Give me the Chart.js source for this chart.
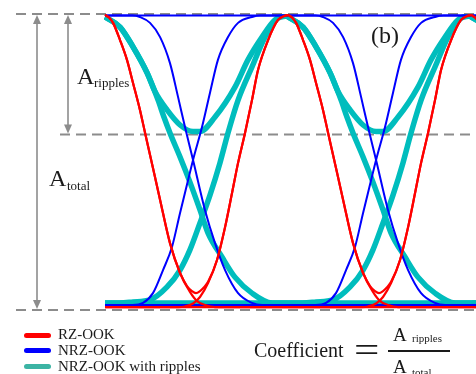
<!DOCTYPE html>
<html>
<head>
<meta charset="utf-8">
<script src="https://cdn.jsdelivr.net/npm/chart.js@4.4.1/dist/chart.umd.min.js"></script>
<style>
  html, body { margin: 0; padding: 0; background: #fff; }
  #wrap { position: relative; width: 476px; height: 374px; overflow: hidden; font-family: "Liberation Serif", "DejaVu Serif", serif; color: #1a1a1a; }
  #eye { position: absolute; left: 0; top: 0; }
  .t { position: absolute; line-height: 1; white-space: nowrap; }
  .swatch { position: absolute; left: 24px; width: 27px; height: 5px; border-radius: 2.5px; }
  .bar { position: absolute; background: #1a1a1a; }
</style>
</head>
<body>
<div id="wrap">
  <canvas id="eye" width="476" height="374"></canvas>

  <span class="t" style="left:77px;top:64px;font-size:24px">A</span>
  <span class="t" style="left:94px;top:76px;font-size:13px">ripples</span>
  <span class="t" style="left:49px;top:166px;font-size:24px">A</span>
  <span class="t" style="left:67px;top:179px;font-size:13px">total</span>
  <span class="t" style="left:371px;top:23px;font-size:24px">(b)</span>

  <div class="swatch" style="top:333px;background:#ff0000"></div>
  <div class="swatch" style="top:348px;background:#0000ff"></div>
  <div class="swatch" style="top:364px;background:#3cb4a4"></div>
  <span class="t" style="left:58px;top:327px;font-size:15px">RZ-OOK</span>
  <span class="t" style="left:58px;top:343px;font-size:15px">NRZ-OOK</span>
  <span class="t" style="left:58px;top:359px;font-size:15px">NRZ-OOK with ripples</span>

  <span class="t" style="left:254px;top:340px;font-size:20px">Coefficient</span>
  <span class="t" style="left:354px;top:332px;font-size:36px;transform:scaleX(1.25);transform-origin:left">=</span>
  <div class="bar" style="left:388px;top:350px;width:62px;height:1.5px"></div>
  <span class="t" style="left:393px;top:325px;font-size:19px">A</span>
  <span class="t" style="left:412px;top:333px;font-size:11px">ripples</span>
  <span class="t" style="left:393px;top:357px;font-size:19px">A</span>
  <span class="t" style="left:412px;top:367px;font-size:11px">total</span>
</div>

<script>
// One bit period of each trace, as [time in bit periods, normalised amplitude].
// Eye traces are folded, so the same period is laid down at every eye offset.
const eyeOffsets = [0, 1, 2];
const rippleLevel = 0.593;

// RZ-OOK
const rzFall = [[0, 0.997], [0.022, 0.988], [0.044, 0.970], [0.082, 0.912], [0.120, 0.845], [0.153, 0.767],
  [0.191, 0.676], [0.219, 0.598], [0.246, 0.524], [0.301, 0.372], [0.355, 0.226], [0.410, 0.125],
  [0.464, 0.061], [0.503, 0.030], [0.546, 0.017], [0.601, 0.010], [1, 0.010]];
const rzRise = [[0, 0.010], [0.400, 0.010], [0.437, 0.012], [0.481, 0.022], [0.519, 0.044], [0.563, 0.091],
  [0.612, 0.169], [0.656, 0.280], [0.694, 0.395], [0.727, 0.497], [0.765, 0.598], [0.803, 0.709],
  [0.836, 0.811], [0.891, 0.912], [0.945, 0.980], [0.975, 0.992], [1, 0.997]];
const rzDip = [[0, 0.997], [0.022, 0.988], [0.044, 0.970], [0.082, 0.912], [0.120, 0.845], [0.153, 0.767],
  [0.191, 0.676], [0.219, 0.598], [0.246, 0.524], [0.301, 0.372], [0.355, 0.226], [0.410, 0.125],
  [0.448, 0.081], [0.475, 0.064], [0.497, 0.057], [0.519, 0.064], [0.541, 0.077], [0.563, 0.095],
  [0.612, 0.169], [0.656, 0.280], [0.694, 0.395], [0.727, 0.497], [0.765, 0.598], [0.803, 0.709],
  [0.836, 0.811], [0.891, 0.912], [0.945, 0.980], [0.975, 0.992], [1, 0.997]];
const rzLow = [[0, 0.010], [1, 0.010]];

// NRZ-OOK
const nrzHigh = [[0, 0.995], [1, 0.995]];
const nrzLow = [[0, 0.017], [1, 0.017]];
const nrzFall = [[0, 0.995], [0.150, 0.995], [0.191, 0.990], [0.246, 0.970], [0.301, 0.922], [0.355, 0.834],
  [0.399, 0.720], [0.437, 0.618], [0.481, 0.507], [0.546, 0.338], [0.601, 0.226], [0.656, 0.135],
  [0.727, 0.057], [0.803, 0.024], [0.858, 0.017], [1, 0.017]];
const nrzRise = [[0, 0.017], [0.150, 0.017], [0.208, 0.024], [0.262, 0.057], [0.317, 0.135], [0.366, 0.213],
  [0.410, 0.328], [0.454, 0.439], [0.481, 0.507], [0.530, 0.618], [0.574, 0.735], [0.617, 0.845],
  [0.672, 0.922], [0.727, 0.970], [0.803, 0.990], [0.850, 0.995], [1, 0.995]];

// NRZ-OOK with ripples
const ripLow = [[0, 0.024], [1, 0.024]];
const ripDip = [[0, 0.990], [0.082, 0.956], [0.153, 0.889], [0.230, 0.801], [0.273, 0.738], [0.339, 0.676],
  [0.410, 0.625], [0.481, 0.603], [0.519, 0.603], [0.601, 0.652], [0.710, 0.753], [0.781, 0.845],
  [0.858, 0.922], [0.929, 0.980], [0.984, 0.993], [1, 0.993]];
const ripFall = [[0, 0.990], [0.082, 0.956], [0.153, 0.889], [0.230, 0.801], [0.290, 0.709], [0.322, 0.652],
  [0.355, 0.598], [0.410, 0.517], [0.464, 0.432], [0.519, 0.338], [0.563, 0.260], [0.639, 0.179],
  [0.710, 0.111], [0.803, 0.057], [0.913, 0.024], [1, 0.024]];
const ripRise = [[0, 0.024], [0.080, 0.024], [0.153, 0.027], [0.246, 0.034], [0.339, 0.078], [0.410, 0.135],
  [0.464, 0.203], [0.519, 0.294], [0.574, 0.389], [0.628, 0.497], [0.672, 0.598], [0.727, 0.709],
  [0.803, 0.821], [0.874, 0.922], [0.945, 0.986], [1, 0.993]];

const RED = '#ff0000', BLUE = '#0000ff', TEAL = '#00bdbd', GUIDE = '#8c8c8c';

// lower order is drawn on top: red over blue over teal
const traces = [
  { pts: ripLow, color: TEAL, width: 5.5, order: 2 },
  { pts: ripDip, color: TEAL, width: 5.5, order: 2 },
  { pts: ripFall, color: TEAL, width: 5.5, order: 2 },
  { pts: ripRise, color: TEAL, width: 5.5, order: 2 },
  { pts: nrzHigh, color: BLUE, width: 2, order: 1 },
  { pts: nrzLow, color: BLUE, width: 2, order: 1 },
  { pts: nrzFall, color: BLUE, width: 2, order: 1 },
  { pts: nrzRise, color: BLUE, width: 2, order: 1 },
  { pts: rzLow, color: RED, width: 2.2, order: 0 },
  { pts: rzFall, color: RED, width: 2.2, order: 0 },
  { pts: rzRise, color: RED, width: 2.2, order: 0 },
  { pts: rzDip, color: RED, width: 2.2, order: 0 }
];

const datasets = [];
eyeOffsets.forEach(off => {
  traces.forEach(tr => {
    datasets.push({
      data: tr.pts.map(([t, v]) => ({ x: t + off, y: v })),
      borderColor: tr.color,
      borderWidth: tr.width,
      order: tr.order,
      pointRadius: 0,
      fill: false,
      cubicInterpolationMode: 'monotone',
      borderJoinStyle: 'round'
    });
  });
});

function arrowHead(ctx, x, y, dir) {
  ctx.beginPath();
  ctx.moveTo(x, y);
  ctx.lineTo(x - 4, y + dir * 9);
  ctx.lineTo(x + 4, y + dir * 9);
  ctx.closePath();
  ctx.fill();
}

// dashed reference levels and the two amplitude arrows
const guides = {
  id: 'guides',
  beforeDatasetsDraw(chart) {
    const { ctx, chartArea } = chart;
    const y = chart.scales.y;
    const yTop = y.getPixelForValue(1);
    const yMid = y.getPixelForValue(rippleLevel);
    const yBot = y.getPixelForValue(0);
    ctx.save();
    ctx.strokeStyle = GUIDE;
    ctx.fillStyle = GUIDE;
    ctx.lineWidth = 2;
    ctx.setLineDash([10, 6]);
    [[16, yTop], [16, yBot], [60, yMid]].forEach(([x0, yy]) => {
      ctx.beginPath();
      ctx.moveTo(x0, yy);
      ctx.lineTo(chartArea.right, yy);
      ctx.stroke();
    });
    ctx.setLineDash([]);
    ctx.lineWidth = 1.6;
    [[37, yTop, yBot], [68, yTop, yMid]].forEach(([x, a, b]) => {
      ctx.beginPath();
      ctx.moveTo(x, a + 6);
      ctx.lineTo(x, b - 6);
      ctx.stroke();
      arrowHead(ctx, x, a + 1, 1);
      arrowHead(ctx, x, b - 1, -1);
    });
    ctx.restore();
  }
};

new Chart(document.getElementById('eye').getContext('2d'), {
  type: 'line',
  data: { datasets },
  options: {
    responsive: false,
    animation: false,
    events: [],
    layout: { padding: { left: 104, top: 14, right: 0, bottom: 64 } },
    plugins: { legend: { display: false }, tooltip: { enabled: false } },
    scales: {
      x: { type: 'linear', min: -0.0055, max: 2.027, display: false },
      y: { min: 0, max: 1, display: false }
    }
  },
  plugins: [guides]
});
</script>
</body>
</html>
